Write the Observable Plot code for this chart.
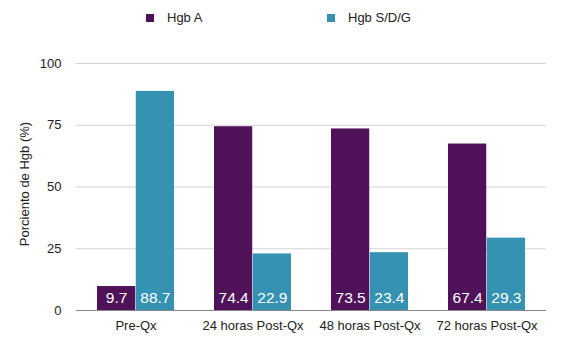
<!DOCTYPE html>
<html>
<head>
<meta charset="utf-8">
<script src="https://cdn.jsdelivr.net/npm/d3@7"></script>
<script src="https://cdn.jsdelivr.net/npm/@observablehq/plot@0.6"></script>
<style>
  body { margin: 0; background: #fff; font-family: "Liberation Sans", Arial, sans-serif; }
  #wrap { position: relative; width: 580px; height: 355px; }
  #legend { position: relative; height: 40px; }
  .item { position: absolute; top: 10px; font-size: 13px; color: #222; display: flex; align-items: center; }
  .sw { width: 8px; height: 8px; margin-right: 13px; }
  #chart { position: absolute; top: 40px; left: 0; }
</style>
</head>
<body>
<div id="wrap">
  <div id="legend"></div>
  <div id="chart"></div>
</div>
<script>
const categories = ["Pre-Qx", "24 horas Post-Qx", "48 horas Post-Qx", "72 horas Post-Qx"];
const series = ["Hgb A", "Hgb S/D/G"];
const hgbA = [9.7, 74.4, 73.5, 67.4];
const hgbSDG = [88.7, 22.9, 23.4, 29.3];
const colors = ["#4f1158", "#3692b3"];
const yTicks = [0, 25, 50, 75, 100];
const yLabel = "Porciento de Hgb (%)";

const dataA = categories.map((c, i) => ({cat: c, series: series[0], value: hgbA[i]}));
const dataS = categories.map((c, i) => ({cat: c, series: series[1], value: hgbSDG[i]}));

const legend = document.getElementById("legend");
const legendX = [146, 327];
series.forEach((s, i) => {
  const d = document.createElement("div");
  d.className = "item";
  d.style.left = legendX[i] + "px";
  d.innerHTML = `<span class="sw" style="background:${colors[i]}"></span><span>${s}</span>`;
  legend.appendChild(d);
});

const W = 580, ML = 76, MR = 34;
const pIn = 0.34, pOut = 0.17;
const step = (W - ML - MR) / (categories.length - pIn + 2 * pOut);
const half = step * (1 - pIn) / 2;

const labelStyle = {fill: "white", fontSize: 15.5, style: "text-shadow: 1px 1px 1px rgba(0,0,0,0.5)"};

const chart = Plot.plot({
  width: W,
  height: 315,
  marginLeft: ML,
  marginRight: MR,
  marginTop: 23,
  marginBottom: 45,
  style: {fontFamily: "Liberation Sans, Arial, sans-serif", fontSize: "13px", color: "#222"},
  x: {domain: categories, paddingInner: pIn, paddingOuter: pOut, label: null, tickSize: 0, tickPadding: 10},
  y: {domain: [0, 100], ticks: yTicks, tickSize: 0, tickPadding: 15, label: null},
  color: {domain: series, range: colors},
  marks: [
    Plot.gridY(yTicks.filter(d => d > 0), {stroke: "#d4d4d4", strokeOpacity: 1}),
    Plot.barY(dataA, {x: "cat", y: "value", fill: "series", insetRight: half}),
    Plot.barY(dataS, {x: "cat", y: "value", fill: "series", insetLeft: half}),
    Plot.text(dataA, {x: "cat", y: 0, text: d => d.value.toFixed(1), dx: -half / 2, dy: -12, ...labelStyle}),
    Plot.text(dataS, {x: "cat", y: 0, text: d => d.value.toFixed(1), dx: half / 2, dy: -12, ...labelStyle}),
    Plot.ruleY([0], {stroke: "#888", strokeWidth: 1.2}),
    Plot.text([yLabel], {frameAnchor: "left", textAnchor: "middle", rotate: -90, dx: -52, dy: -3, fontSize: 13, fill: "#222"})
  ]
});
document.getElementById("chart").appendChild(chart);
</script>
</body>
</html>
